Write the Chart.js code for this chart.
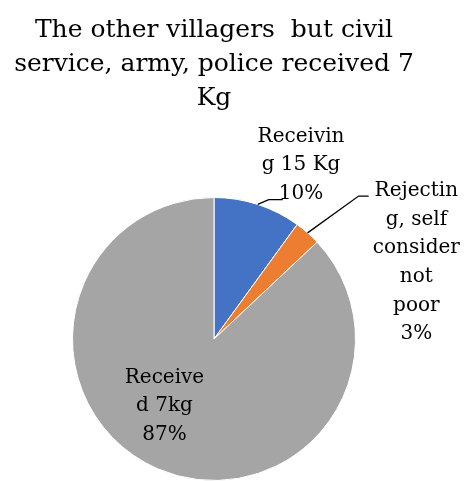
<!DOCTYPE html>
<html>
<head>
<meta charset="utf-8">
<script src="https://cdn.jsdelivr.net/npm/chart.js@4"></script>
<style>
  html, body { margin: 0; padding: 0; background: #fff; }
  #wrap { width: 467px; height: 481px; }
</style>
</head>
<body>
<div id="wrap"><canvas id="pieChart"></canvas></div>
<script>
// chart data
const categories = ['Receiving 15 Kg', 'Rejecting, self consider not poor', 'Received 7kg'];
const shares = [10, 3, 87];
const colours = ['#4472C4', '#ED7D31', '#A5A5A5'];
// label text as wrapped in the picture
const labelLines = [
    ['Receivin', 'g 15 Kg', '10%'],
    ['Rejectin', 'g, self', 'consider', 'not', 'poor', '3%'],
    ['Receive', 'd 7kg', '87%']
];
const titleLines = ['The other villagers  but civil', 'service, army, police received 7', 'Kg'];

const labelFont = '20px "DejaVu Serif"';
const lineGap = 28.6;

// where each label block sits, relative to the pie centre, in radii
const labelSpots = [
    {dx: 0.615, dy: -1.23, leader: 'short'},
    {dx: 1.43, dy: -0.54, leader: 'elbow'},
    {dx: -0.35, dy: 0.475, leader: null}
];

const pieLabels = {
    id: 'pieLabels',
    afterDatasetsDraw(chart) {
        const ctx = chart.ctx;
        const arcs = chart.getDatasetMeta(0).data;
        ctx.save();
        ctx.font = labelFont;
        ctx.fillStyle = '#000';
        ctx.textAlign = 'center';
        ctx.textBaseline = 'middle';
        arcs.forEach((arc, i) => {
            const r = arc.outerRadius;
            const mid = (arc.startAngle + arc.endAngle) / 2;
            const edgeX = arc.x + Math.cos(mid) * r;
            const edgeY = arc.y + Math.sin(mid) * r;
            const spot = labelSpots[i];
            const cx = arc.x + spot.dx * r;
            const cy = arc.y + spot.dy * r;
            const lines = labelLines[i];
            const top = cy - (lines.length - 1) * lineGap / 2;
            lines.forEach((t, k) => ctx.fillText(t, cx, top + k * lineGap));

            ctx.strokeStyle = '#000';
            ctx.lineWidth = 1.3;
            if (spot.leader === 'short') {
                const lastY = top + (lines.length - 1) * lineGap + 6;
                const w = ctx.measureText(lines[lines.length - 1]).width;
                ctx.beginPath();
                ctx.moveTo(edgeX, edgeY);
                ctx.lineTo(edgeX + 11, lastY);
                ctx.lineTo(cx - w / 2 + 4, lastY);
                ctx.stroke();
            } else if (spot.leader === 'elbow') {
                const firstY = top + 5;
                const w = ctx.measureText(lines[0]).width;
                const endX = cx - w / 2 - 6;
                ctx.beginPath();
                ctx.moveTo(edgeX, edgeY);
                ctx.lineTo(endX - 10, firstY);
                ctx.lineTo(endX, firstY);
                ctx.stroke();
            }
        });
        ctx.restore();
    }
};

new Chart(document.getElementById('pieChart'), {
    type: 'pie',
    data: {
        labels: categories,
        datasets: [{
            data: shares,
            backgroundColor: colours,
            borderColor: '#fff',
            borderWidth: 1
        }]
    },
    options: {
        responsive: true,
        maintainAspectRatio: false,
        animation: false,
        layout: {
            padding: {left: 0, right: 39, top: 0, bottom: 0}
        },
        plugins: {
            legend: {display: false},
            tooltip: {enabled: false},
            title: {
                display: true,
                text: titleLines,
                color: '#000',
                font: {family: '"DejaVu Serif"', size: 25, weight: 'normal', lineHeight: 1.36},
                padding: {top: 13, bottom: 82}
            }
        }
    },
    plugins: [pieLabels]
});
</script>
</body>
</html>
